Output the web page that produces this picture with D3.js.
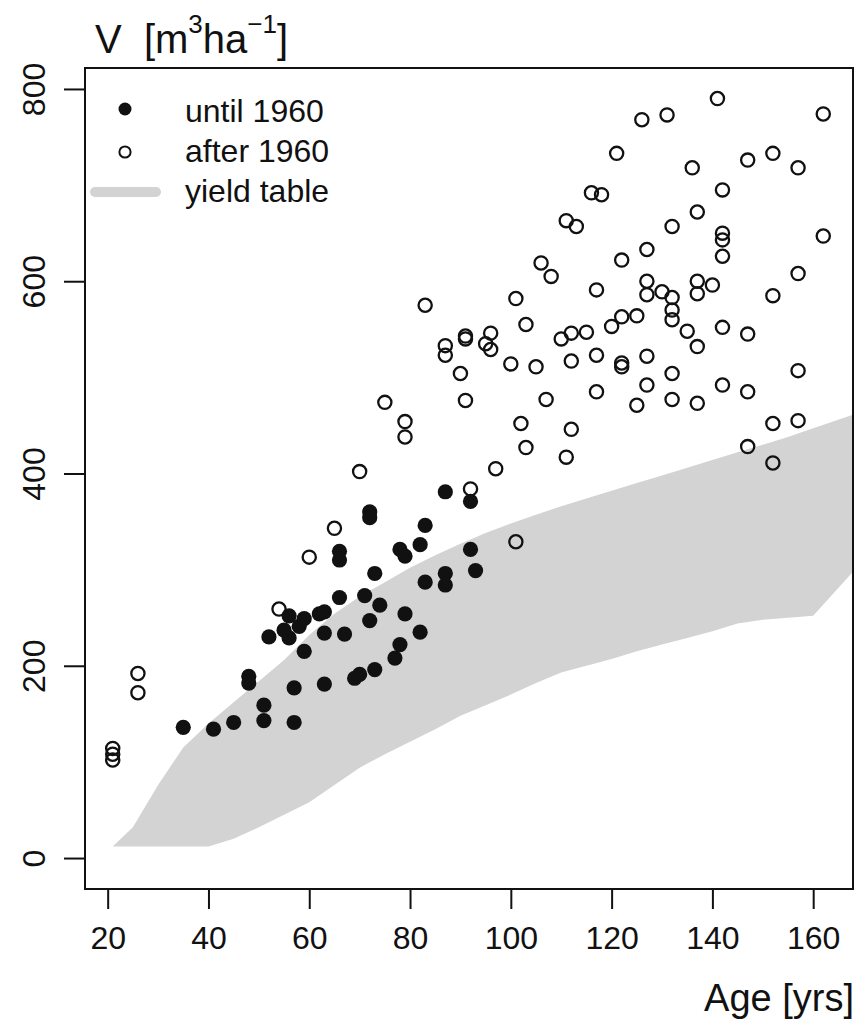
<!DOCTYPE html>
<html>
<head>
<meta charset="utf-8">
<script src="https://cdn.jsdelivr.net/npm/d3@7"></script>
<style>
  body { margin: 0; background: #fff; }
  text { font-family: "Liberation Sans", Arial, sans-serif; fill: #111; }
</style>
</head>
<body>
<div id="container"></div>
<script>
// DATA
// stands measured until 1960 (filled)
const untilAge = [35,41,45,48,48,51,51,52,55,56,56,57,57,58,59,59,62,63,63,63,66,66,66,67,69,70,71,72,72,72,73,73,74,77,78,78,79,79,82,82,83,83,87,87,87,92,92,93];
const untilV = [136,134,141,189,182,159,143,230,237,229,252,177,141,241,249,215,254,256,234,181,319,310,271,233,187,191,273,360,354,247,296,196,263,208,321,222,314,254,326,235,346,287,381,296,284,371,321,299];

// stands measured after 1960 (open)
const afterAge = [21,21,21,26,26,54,60,65,70,75,79,79,83,87,87,90,91,91,91,92,95,96,96,97,100,101,101,102,103,103,105,106,107,108,110,111,111,112,112,112,113,115,116,117,117,117,118,120,121,122,122,122,122,125,125,126,127,127,127,127,127,130,131,132,132,132,132,132,132,135,136,137,137,137,137,137,140,141,142,142,142,142,142,142,147,147,147,147,152,152,152,152,157,157,157,157,162,162];
const afterV = [114,108,102,192,172,259,313,343,402,474,454,438,575,533,523,504,543,540,476,384,535,546,529,405,514,582,329,452,555,427,511,619,477,605,540,417,663,546,517,446,657,547,692,591,523,485,690,553,733,622,563,515,511,564,471,768,633,600,586,522,492,589,773,657,583,570,560,504,477,548,718,672,600,587,532,473,596,790,695,650,643,626,552,492,726,545,485,428,733,585,452,411,718,608,507,455,774,647];

// yield table band
const ytAge = [21,25,30,35,40,45,50,55,60,65,70,75,80,85,90,95,100,105,110,115,120,125,130,135,140,145,150,155,160,170];
const ytUpper = [12,32,76,115,140,162,184,206,232,254,272,287,302,315,327,338,348,357,366,374,382,390,398,406,414,422,430,438,447,465];
const ytLower = [12,12,12,12,12,20,32,45,58,76,94,108,121,134,148,159,170,182,193,200,207,215,222,229,236,244,248,250,252,310];

// ticks
const xTicks = [20,40,60,80,100,120,140,160];
const yTicks = [0,200,400,600,800];

const legendLabels = ["until 1960", "after 1960", "yield table"];

// SVG
const width = 866;
const height = 1022;
const plot = {left: 85, top: 68, right: 853, bottom: 889};

const svg = d3.select("div#container").append("svg")
    .attr("width", width)
    .attr("height", height)
    .style("display", "block");

svg.append("rect").attr("width", width).attr("height", height).attr("fill", "#fff");

// SCALES
const xScale = d3.scaleLinear().domain([15.5, 167.9]).range([plot.left, plot.right]);
const yScale = d3.scaleLinear().domain([-32.2, 821.8]).range([plot.bottom, plot.top]);

svg.append("clipPath").attr("id", "plotclip")
  .append("rect")
    .attr("x", plot.left).attr("y", plot.top)
    .attr("width", plot.right - plot.left)
    .attr("height", plot.bottom - plot.top);

// yield table band
const yt = ytAge.map((a, i) => ({age: a, lo: ytLower[i], hi: ytUpper[i]}));
const area = d3.area()
    .x(d => xScale(d.age))
    .y0(d => yScale(d.lo))
    .y1(d => yScale(d.hi));

svg.append("path")
    .datum(yt)
    .attr("clip-path", "url(#plotclip)")
    .attr("d", area)
    .attr("fill", "#d3d3d3");

// POINTS
const untilData = untilAge.map((a, i) => ({age: a, v: untilV[i]}));
const afterData = afterAge.map((a, i) => ({age: a, v: afterV[i]}));

svg.append("g")
  .selectAll("circle")
  .data(afterData)
  .enter().append("circle")
    .attr("cx", d => xScale(d.age))
    .attr("cy", d => yScale(d.v))
    .attr("r", 6.6)
    .attr("fill", "none")
    .attr("stroke", "#111")
    .attr("stroke-width", 2.3);

svg.append("g")
  .selectAll("circle")
  .data(untilData)
  .enter().append("circle")
    .attr("cx", d => xScale(d.age))
    .attr("cy", d => yScale(d.v))
    .attr("r", 7.6)
    .attr("fill", "#111");

// AXES
const xAxis = svg.append("g")
    .attr("transform", "translate(0," + plot.bottom + ")")
    .call(d3.axisBottom(xScale).tickValues(xTicks).tickSize(20));
xAxis.select(".domain").remove();
xAxis.selectAll(".tick line").attr("stroke", "#111").attr("stroke-width", 2);
xAxis.selectAll(".tick text")
    .attr("y", 60).attr("dy", null)
    .attr("font-size", 32)
    .attr("fill", "#111");

const yAxis = svg.append("g")
    .attr("transform", "translate(" + plot.left + ",0)")
    .call(d3.axisLeft(yScale).tickValues(yTicks).tickSize(21));
yAxis.select(".domain").remove();
yAxis.selectAll(".tick line").attr("stroke", "#111").attr("stroke-width", 2);
yAxis.selectAll(".tick text")
    .attr("x", null).attr("dy", null)
    .attr("transform", "translate(-40,0) rotate(-90)")
    .attr("text-anchor", "middle")
    .attr("font-size", 32)
    .attr("fill", "#111");

// frame
svg.append("rect")
    .attr("x", plot.left).attr("y", plot.top)
    .attr("width", plot.right - plot.left)
    .attr("height", plot.bottom - plot.top)
    .attr("fill", "none")
    .attr("stroke", "#111")
    .attr("stroke-width", 2);

// axis titles
const title = svg.append("text")
    .attr("x", 95).attr("y", 53)
    .attr("font-size", 40)
    .style("white-space", "pre");
title.append("tspan").text("V  [m");
title.append("tspan").attr("dy", -20).attr("font-size", 26).text("3");
title.append("tspan").attr("dy", 20).text("ha");
title.append("tspan").attr("dy", -20).attr("font-size", 26).text("\u22121");
title.append("tspan").attr("dy", 20).text("]");

svg.append("text")
    .attr("x", 854).attr("y", 1011)
    .attr("text-anchor", "end")
    .attr("font-size", 38)
    .text("Age [yrs]");

// LEGEND
const legend = svg.append("g");
legend.append("circle").attr("cx", 125).attr("cy", 109).attr("r", 6.5).attr("fill", "#111");
legend.append("circle").attr("cx", 125).attr("cy", 152).attr("r", 5.6)
    .attr("fill", "none").attr("stroke", "#111").attr("stroke-width", 2);
legend.append("line")
    .attr("x1", 95).attr("x2", 156).attr("y1", 192).attr("y2", 192)
    .attr("stroke", "#d3d3d3").attr("stroke-width", 10).attr("stroke-linecap", "round");
legend.selectAll("text.lab")
  .data(legendLabels)
  .enter().append("text")
    .attr("class", "lab")
    .attr("x", 185)
    .attr("y", (d, i) => 122 + i * 40)
    .attr("font-size", 32)
    .text(d => d);
</script>
</body>
</html>
